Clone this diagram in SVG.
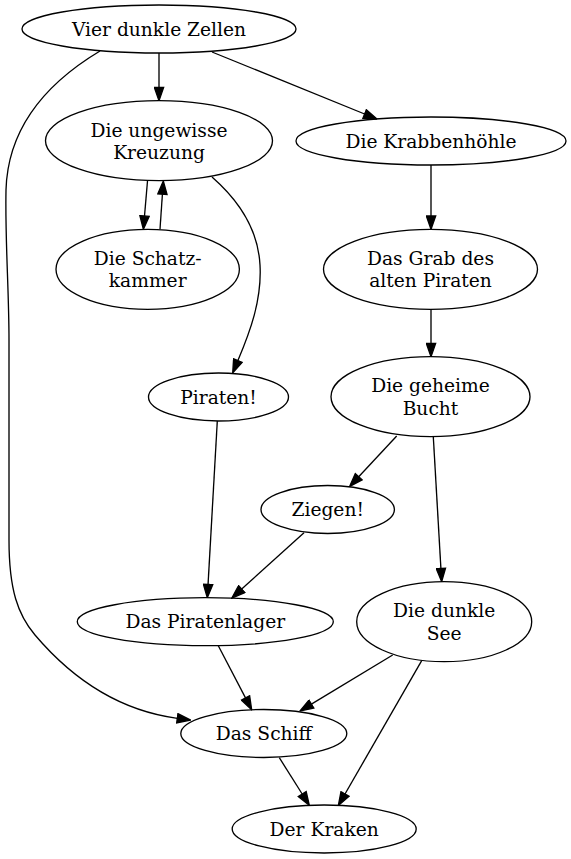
<svg xmlns="http://www.w3.org/2000/svg" width="571" height="859" viewBox="0 0 571 859">
<style>
.n ellipse{fill:none;stroke:#000;stroke-width:1.33}
.n text{font-family:"DejaVu Serif","Liberation Serif",serif;font-size:18.67px;text-anchor:middle;fill:#000}
.e path{fill:none;stroke:#000;stroke-width:1.33;marker-end:url(#ah)}
</style>
<defs>
<marker id="ah" markerUnits="userSpaceOnUse" markerWidth="15" markerHeight="11" viewBox="-1 -1 15 11" refX="0" refY="4.67" orient="auto">
<path d="M0,0 L13.33,4.67 L0,9.33 Z" fill="#000" stroke="#000" stroke-width="1.33"/>
</marker>
</defs>
<rect width="571" height="859" fill="#fff"/>
<g id="edges" class="e">
<path d="M159,53 L159,87.4"/>
<path d="M212,52 L364.6,114"/>
<path d="M100,51 C55,78 8,120 6,190 C5,240 9,290 9,340 L9,540 C9,590 18,615 35,635 C52,655 100,708 177.3,718.3"/>
<path d="M147.5,181 L144.5,216"/>
<path d="M160,229.3 L162.4,194.3"/>
<path d="M212,177 C236,198 258,226 260,265 C262,300 250,332 237.9,360.6"/>
<path d="M431,165 L431,216"/>
<path d="M431,309.3 L431,343.4"/>
<path d="M217.3,421 L208.05,584.4"/>
<path d="M396.7,436 L358.7,476.7"/>
<path d="M433.3,436.7 L440.9,568.4"/>
<path d="M304,532.7 L241.7,589.1"/>
<path d="M218.3,645.7 L245.5,697.9"/>
<path d="M392.7,655 L311.4,704.1"/>
<path d="M421.7,660.7 L345,794"/>
<path d="M279.3,757.7 L302.2,794"/>
</g>
<g id="vier" class="n"><ellipse cx="159" cy="29" rx="137" ry="24"/><text x="159" y="35.5">Vier dunkle Zellen</text></g>
<g id="kreuzung" class="n"><ellipse cx="159" cy="140.7" rx="113.5" ry="40"/><text x="159" y="136.5">Die ungewisse</text><text x="159" y="159">Kreuzung</text></g>
<g id="krabbe" class="n"><ellipse cx="431" cy="141" rx="135" ry="24"/><text x="431" y="147.5">Die Krabbenhöhle</text></g>
<g id="schatz" class="n"><ellipse cx="147.7" cy="269.3" rx="91.7" ry="40"/><text x="147.7" y="264.5">Die Schatz-</text><text x="147.7" y="287">kammer</text></g>
<g id="grab" class="n"><ellipse cx="430.5" cy="269.3" rx="107" ry="40"/><text x="430.5" y="264.5">Das Grab des</text><text x="430.5" y="287">alten Piraten</text></g>
<g id="piraten" class="n"><ellipse cx="218.5" cy="397" rx="70" ry="24"/><text x="218.5" y="403.5">Piraten!</text></g>
<g id="bucht" class="n"><ellipse cx="430.5" cy="396.7" rx="99.5" ry="40"/><text x="430.5" y="392.2">Die geheime</text><text x="430.5" y="414.6">Bucht</text></g>
<g id="ziegen" class="n"><ellipse cx="327.7" cy="509.5" rx="66.7" ry="24"/><text x="327.7" y="516">Ziegen!</text></g>
<g id="lager" class="n"><ellipse cx="205.3" cy="621.7" rx="128" ry="24"/><text x="205.3" y="628.2">Das Piratenlager</text></g>
<g id="see" class="n"><ellipse cx="444.2" cy="621.7" rx="87.5" ry="40"/><text x="444.2" y="617.2">Die dunkle</text><text x="444.2" y="639.6">See</text></g>
<g id="schiff" class="n"><ellipse cx="263.8" cy="733.5" rx="83" ry="24"/><text x="263.8" y="740">Das Schiff</text></g>
<g id="kraken" class="n"><ellipse cx="324.2" cy="829" rx="92" ry="24"/><text x="324.2" y="835.5">Der Kraken</text></g>
</svg>
